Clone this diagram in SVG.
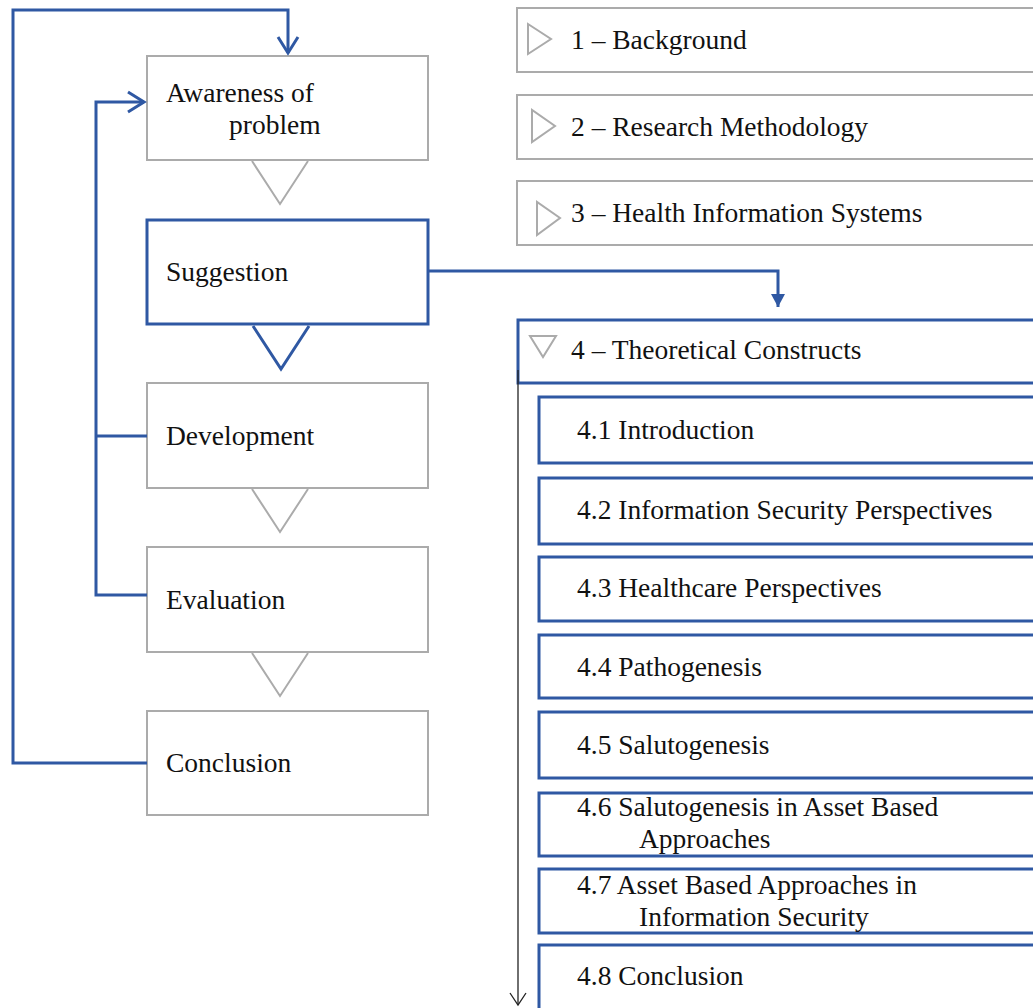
<svg xmlns="http://www.w3.org/2000/svg" width="1033" height="1008" viewBox="0 0 1033 1008">
  <style>
    .lbl { font-family: "Liberation Serif", "DejaVu Serif", serif; font-size: 27.5px; fill: #111; }
    .gbox { fill: #fff; stroke: #ababab; stroke-width: 2; }
    .bbox { fill: #fff; stroke: #2f58a3; stroke-width: 3; }
    .gtri { fill: none; stroke: #ababab; stroke-width: 2; stroke-linejoin: miter; }
    .btri { fill: none; stroke: #2f58a3; stroke-width: 3; }
    .conn { fill: none; stroke: #2f58a3; stroke-width: 3; }
    .thin { fill: none; stroke: #222; stroke-width: 1.3; }
  </style>
  <defs>
    <marker id="chev" markerWidth="20" markerHeight="20" refX="16" refY="7" orient="auto" markerUnits="userSpaceOnUse" overflow="visible">
      <path d="M0,-3 L16,7 L0,17" fill="none" stroke="#2f58a3" stroke-width="3"/>
    </marker>
    <marker id="solid" markerWidth="14" markerHeight="14" refX="13" refY="7" orient="auto" markerUnits="userSpaceOnUse">
      <path d="M0,0 L13,7 L0,14 Z" fill="#2f58a3"/>
    </marker>
  </defs>

  <!-- design cycle -->
  <g id="awareness">
    <rect class="gbox" x="147" y="56" width="281" height="104"/>
    <text class="lbl" x="166" y="102">Awareness of</text>
    <text class="lbl" x="229" y="134">problem</text>
  </g>
  <polyline class="gtri" points="252,161 280,204 308,161"/>
  <g id="suggestion">
    <rect class="bbox" x="147" y="220" width="281" height="104"/>
    <text class="lbl" x="166" y="281">Suggestion</text>
  </g>
  <polyline class="btri" points="253,326 281,369 309,326"/>
  <g id="development">
    <rect class="gbox" x="147" y="383" width="281" height="105"/>
    <text class="lbl" x="166" y="445">Development</text>
  </g>
  <polyline class="gtri" points="252,489 280,532 308,489"/>
  <g id="evaluation">
    <rect class="gbox" x="147" y="547" width="281" height="105"/>
    <text class="lbl" x="166" y="609">Evaluation</text>
  </g>
  <polyline class="gtri" points="252,653 280,696 308,653"/>
  <g id="conclusion">
    <rect class="gbox" x="147" y="711" width="281" height="104"/>
    <text class="lbl" x="166" y="772">Conclusion</text>
  </g>

  <!-- chapter outline -->
  <g id="ch1">
    <rect class="gbox" x="517" y="8" width="530" height="64"/>
    <polygon class="gtri" points="528,24 528,54 551,39"/>
    <text class="lbl" x="571" y="49">1 – Background</text>
  </g>
  <g id="ch2">
    <rect class="gbox" x="517" y="95" width="530" height="64"/>
    <polygon class="gtri" points="532,110 532,142 555,126"/>
    <text class="lbl" x="571" y="136">2 – Research Methodology</text>
  </g>
  <g id="ch3">
    <rect class="gbox" x="517" y="181" width="530" height="64"/>
    <polygon class="gtri" points="537,202 537,235 560,218"/>
    <text class="lbl" x="571" y="222">3 – Health Information Systems</text>
  </g>
  <g id="ch4">
    <rect class="bbox" x="518" y="320" width="530" height="63"/>
    <polygon class="gtri" points="530,336 556,336 543,357"/>
    <text class="lbl" x="571" y="359">4 – Theoretical Constructs</text>
  </g>
  <g id="s41">
    <rect class="bbox" x="539" y="397" width="510" height="66"/>
    <text class="lbl" x="577" y="439">4.1 Introduction</text>
  </g>
  <g id="s42">
    <rect class="bbox" x="539" y="478" width="510" height="66"/>
    <text class="lbl" x="577" y="519">4.2 Information Security Perspectives</text>
  </g>
  <g id="s43">
    <rect class="bbox" x="539" y="557" width="510" height="64"/>
    <text class="lbl" x="577" y="597">4.3 Healthcare Perspectives</text>
  </g>
  <g id="s44">
    <rect class="bbox" x="539" y="635" width="510" height="63"/>
    <text class="lbl" x="577" y="676">4.4 Pathogenesis</text>
  </g>
  <g id="s45">
    <rect class="bbox" x="539" y="712" width="510" height="66"/>
    <text class="lbl" x="577" y="754">4.5 Salutogenesis</text>
  </g>
  <g id="s46">
    <rect class="bbox" x="539" y="793" width="510" height="63"/>
    <text class="lbl" x="577" y="816">4.6 Salutogenesis in Asset Based</text>
    <text class="lbl" x="639" y="848">Approaches</text>
  </g>
  <g id="s47">
    <rect class="bbox" x="539" y="869" width="510" height="64"/>
    <text class="lbl" x="577" y="894">4.7 Asset Based Approaches in</text>
    <text class="lbl" x="639" y="926">Information Security</text>
  </g>
  <g id="s48">
    <rect class="bbox" x="539" y="945" width="510" height="80"/>
    <text class="lbl" x="577" y="985">4.8 Conclusion</text>
  </g>

  <!-- connectors -->
  <g id="connectors">
    <path class="conn" d="M147,763 H13 V10 H288 V53" marker-end="url(#chev)"/>
    <path class="conn" d="M147,595 H96 V102 H144" marker-end="url(#chev)"/>
    <path class="conn" d="M147,436 H96"/>
    <path class="conn" d="M428,271 H778 V307" marker-end="url(#solid)"/>
    <path class="thin" d="M518,370 V1005"/>
    <path class="thin" d="M510,993 L518,1005 L526,993"/>
  </g>
</svg>
